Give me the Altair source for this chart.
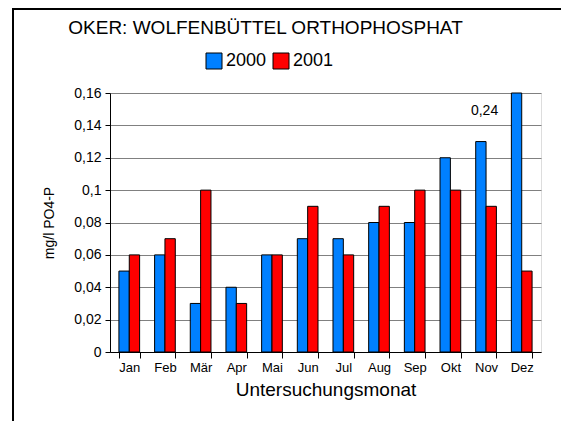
import altair as alt
import pandas as pd

months = ["Jan", "Feb", "Mär", "Apr", "Mai", "Jun", "Jul", "Aug", "Sep", "Okt", "Nov", "Dez"]
values_2000 = [0.05, 0.06, 0.03, 0.04, 0.06, 0.07, 0.07, 0.08, 0.08, 0.12, 0.13, 0.24]
values_2001 = [0.06, 0.07, 0.10, 0.03, 0.06, 0.09, 0.06, 0.09, 0.10, 0.10, 0.09, 0.05]
years = ["2000", "2001"]
y_ticks = [0, 0.02, 0.04, 0.06, 0.08, 0.1, 0.12, 0.14, 0.16]

# annotation for the clipped December bar
anno_month = ["Dez"]
anno_year = ["2000"]
anno_text = ["0,24"]
anno_y = [0.149]

rows = []
for m, a, b in zip(months, values_2000, values_2001):
    rows.append({"Monat": m, "Jahr": "2000", "Wert": a})
    rows.append({"Monat": m, "Jahr": "2001", "Wert": b})
df = pd.DataFrame(rows)
anno = pd.DataFrame({"Monat": anno_month, "Jahr": anno_year, "Text": anno_text, "Wert": anno_y})

font = "Liberation Sans"

x_enc = alt.X(
    "Monat:N", sort=months,
    scale=alt.Scale(paddingInner=0.42, paddingOuter=0.25),
    axis=alt.Axis(title="Untersuchungsmonat", labelAngle=0, tickBand="extent",
                  labelFontSize=13, titleFontSize=19, titleFontWeight="normal",
                  labelColor="black", titleColor="black", domainColor="black",
                  tickColor="black", tickSize=6, labelPadding=3, titlePadding=6,
                  grid=False, labelFont=font, titleFont=font, labelOverlap=False),
)
y_enc = alt.Y(
    "Wert:Q",
    scale=alt.Scale(domain=[0, 0.16], clamp=True, nice=False),
    axis=alt.Axis(title="mg/l PO4-P", values=y_ticks,
                  labelExpr="replace(format(datum.value, '.2~f'), '.', ',')",
                  labelOverlap=False,
                  labelFontSize=14, titleFontSize=14, titleFontWeight="normal",
                  labelColor="black", titleColor="black", domainColor="black",
                  tickColor="black", tickSize=5, labelPadding=4, titlePadding=17,
                  grid=True, gridColor="#808080", gridOpacity=1,
                  labelFont=font, titleFont=font),
)
xoff = alt.XOffset("Jahr:N", sort=years, scale=alt.Scale(paddingInner=0, paddingOuter=0))

bars = alt.Chart(df).mark_bar(stroke="black", strokeWidth=1).encode(
    x=x_enc,
    xOffset=xoff,
    y=y_enc,
    color=alt.Color("Jahr:N", sort=years,
                    scale=alt.Scale(domain=years, range=["#0080FF", "#FF0000"]),
                    legend=alt.Legend(orient="none", legendX=95, legendY=-41, direction="horizontal",
                                      title=None, symbolType="square", symbolSize=256,
                                      symbolStrokeColor="black", symbolStrokeWidth=1,
                                      symbolOpacity=1, labelFontSize=18, labelFont=font,
                                      labelColor="black", columnPadding=4, labelOffset=3)),
)

text = alt.Chart(anno).mark_text(fontSize=14, font=font, color="black", dx=-32, baseline="middle").encode(
    x=x_enc,
    xOffset=xoff,
    y=y_enc,
    text="Text:N",
)

frame_left = alt.Chart(anno).mark_rule(color="black", strokeWidth=2).encode(
    x=alt.value(-97), y=alt.value(-85), y2=alt.value(328)
)
frame_top = alt.Chart(anno).mark_rule(color="black", strokeWidth=2).encode(
    x=alt.value(-98), x2=alt.value(451), y=alt.value(-84)
)

chart = alt.layer(bars, text, frame_left, frame_top).properties(
    width=431, height=259,
    padding={"left": 102, "top": 85, "right": 20, "bottom": 69},
    autosize=alt.AutoSizeParams(type="none"),
    title=alt.Title("OKER: WOLFENBÜTTEL ORTHOPHOSPHAT", fontSize=19, fontWeight="normal",
                    font=font, color="black", anchor="middle", dx=-60, offset=-46,
                    baseline="alphabetic"),
).configure_view(stroke="#808080").configure(background="white")

chart.save("out.html", embed_options={"renderer": "svg", "actions": False})
